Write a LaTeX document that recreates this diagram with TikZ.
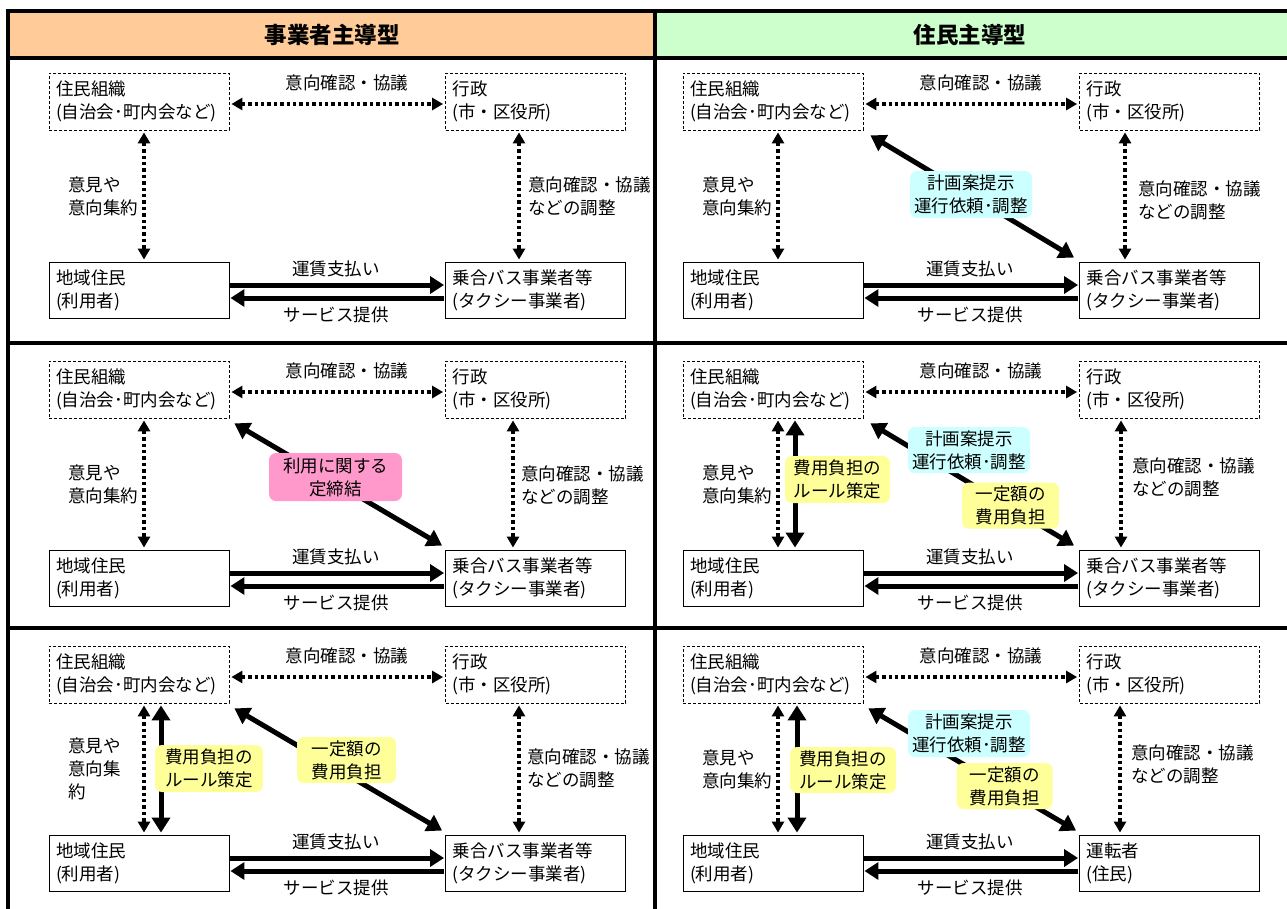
\documentclass[tikz,border=0pt]{standalone}
\usepackage{fontspec}
\setmainfont{Noto Sans CJK JP}
\usetikzlibrary{arrows.meta,calc}
\definecolor{hdorange}{HTML}{FFCC99}
\definecolor{hdgreen}{HTML}{CCFFCC}
\definecolor{tagcyan}{HTML}{CCFFFF}
\definecolor{tagyellow}{HTML}{FFFF99}
\definecolor{tagpink}{HTML}{FF99CC}
\tikzset{
  txt/.style={font=\fontsize{17.5}{23}\selectfont},
  dbox/.style={draw, dash pattern=on 3pt off 2pt, line width=0.8pt, minimum width=180pt, minimum height=57pt, text width=166pt, align=left, inner sep=0pt, txt},
  sbox/.style={draw, line width=0.9pt, minimum width=180pt, minimum height=56pt, text width=166pt, align=left, inner sep=0pt, txt},
  lbl/.style={txt, align=center, inner sep=0pt},
  lblw/.style={txt, align=left, anchor=west, inner sep=0pt},
  dotarrow/.style={line width=3.6pt, dash pattern=on 3.4pt off 3pt, {Triangle[length=11pt,width=12pt]}-{Triangle[length=11pt,width=12pt]}},
  thickarrow/.style={line width=5pt, -{Triangle[length=14pt,width=17pt]}},
  dthick/.style={line width=5pt, {Triangle[length=15pt,width=18pt]}-{Triangle[length=15pt,width=18pt]}},
  tag/.style={rounded corners=7pt, inner sep=0pt, align=center, txt},
  frame/.style={line width=3.5pt}
}
\newcommand{\mypanel}[8]{%
  \begin{scope}[shift={(#2,#3)}]
    \node[dbox] (#1A) at (139,101.5) {住民組織\\(自治会･町内会など)};
    \node[dbox] (#1B) at (535.5,101.5) {行政\\(市・区役所)};
    \node[sbox] (#1C) at (139,290) {地域住民\\(利用者)};
    \node[sbox] (#1D) at (535.5,290) {#7};
    \node[lbl] (#1top) at (347,83) {意向確認・協議};
    \draw[dotarrow] ($(#1A.east)+(2,2.5)$) -- ($(#1B.west)+(-2,2.5)$);
    \coordinate (#1lv) at (144,0);
    \coordinate (#1rv) at (#4,0);
    \draw[dotarrow] ($(#1A.south -| #1lv)+(0,2)$) -- ($(#1C.north -| #1lv)+(0,-2)$);
    \draw[dotarrow] ($(#1B.south -| #1rv)+(0,2)$) -- ($(#1D.north -| #1rv)+(0,-2)$);
    \node[lblw] (#1ll) at (68,196) {#8};
    \node[lblw] (#1rl) at (#5,#6) {意向確認・協議\\などの調整};
    \draw[thickarrow] ($(#1C.east)+(1,-5)$) -- ($(#1D.west)+(-1,-5)$);
    \draw[thickarrow] ($(#1D.west)+(-1,8)$) -- ($(#1C.east)+(1,8)$);
    \node[lbl] (#1pay) at (336,269) {運賃支払い};
    \node[lbl] (#1svc) at (336,315) {サービス提供};
  \end{scope}}
\begin{document}
\begin{tikzpicture}[x=1pt,y=-1pt]
\useasboundingbox (0,0) rectangle (1287,908);
\fill[white] (0,0) rectangle (1287,908);
% header
\fill[hdorange] (8,11) rectangle (655,58);
\fill[hdgreen] (655,11) rectangle (1290,58);
\node[font=\fontsize{22.5}{25}\selectfont\bfseries] (h1) at (332,35) {事業者主導型};
\node[font=\fontsize{22.5}{25}\selectfont\bfseries] (h2) at (970,35) {住民主導型};
\draw[frame] (8,11) -- (1290,11);
\draw[frame] (8,58) -- (1290,58);
\draw[frame] (8,343) -- (1290,343);
\draw[frame] (8,628) -- (1290,628);
\draw[frame] (8,9.25) -- (8,910);
\draw[frame] (655,9.25) -- (655,910);

% row 1
\mypanel{pa}{0}{0}{519}{528}{196}{乗合バス事業者等\\(タクシー事業者)}{意見や\\意向集約}
\mypanel{qa}{634}{0}{491}{504}{200}{乗合バス事業者等\\(タクシー事業者)}{意見や\\意向集約}
\draw[dthick] ($(qaA.south east)+(7,5)$) -- ($(qaD.north west)+(-5,-4)$);
\node[tag, fill=tagcyan, minimum width=122pt, minimum height=47pt] (qat) at (971,194.5) {計画案提示\\運行依頼･調整};

% row 2
\mypanel{pb}{0}{288}{513}{521}{197}{乗合バス事業者等\\(タクシー事業者)}{意見や\\意向集約}
\draw[dthick] ($(pbA.south east)+(5,5)$) -- ($(pbD.north west)+(-3,-4)$);
\node[tag, fill=tagpink, minimum width=133pt, minimum height=48pt] (pbt) at (335.5,477) {利用に関する\\定締結};

\mypanel{qb}{634}{288}{487}{498}{189}{乗合バス事業者等\\(タクシー事業者)}{意見や\\意向集約}
\coordinate (qbsv) at (795,0);
\draw[dthick] ($(qbA.south -| qbsv)+(0,2)$) -- ($(qbC.north -| qbsv)+(0,-2)$);
\draw[dthick] ($(qbA.south east)+(7,5)$) -- ($(qbD.north west)+(-5,-4)$);
\node[tag, fill=tagcyan, minimum width=122pt, minimum height=46pt] (qbt1) at (969,450) {計画案提示\\運行依頼･調整};
\node[tag, fill=tagyellow, minimum width=97pt, minimum height=46pt] (qbt2) at (1010.5,505.5) {一定額の\\費用負担};
\node[tag, fill=tagyellow, minimum width=105pt, minimum height=47pt] (qbt3) at (837.5,479.5) {費用負担の\\ルール策定};

% row 3
\mypanel{pc}{0}{573}{519}{527}{195}{乗合バス事業者等\\(タクシー事業者)}{意見や\\意向集\\約}
\coordinate (pcsv) at (161,0);
\draw[dthick] ($(pcA.south -| pcsv)+(0,2)$) -- ($(pcC.north -| pcsv)+(0,-2)$);
\draw[dthick] ($(pcA.south east)+(5,5)$) -- ($(pcD.north west)+(-3,-4)$);
\node[tag, fill=tagyellow, minimum width=108pt, minimum height=47pt] (pct1) at (209,768.5) {費用負担の\\ルール策定};
\node[tag, fill=tagyellow, minimum width=99pt, minimum height=46pt] (pct2) at (346.5,760) {一定額の\\費用負担};

\mypanel{qc}{634}{573}{486}{497}{191}{運転者\\(住民)}{意見や\\意向集約}
\coordinate (qcsv) at (797,0);
\draw[dthick] ($(qcA.south -| qcsv)+(0,2)$) -- ($(qcC.north -| qcsv)+(0,-2)$);
\draw[dthick] ($(qcA.south east)+(5,5)$) -- ($(qcD.north west)+(-3,-4)$);
\node[tag, fill=tagcyan, minimum width=122pt, minimum height=47pt] (qct1) at (969,733.5) {計画案提示\\運行依頼･調整};
\node[tag, fill=tagyellow, minimum width=96pt, minimum height=46pt] (qct2) at (1004.5,786) {一定額の\\費用負担};
\node[tag, fill=tagyellow, minimum width=106pt, minimum height=46pt] (qct3) at (843,770) {費用負担の\\ルール策定};
\end{tikzpicture}
\end{document}
